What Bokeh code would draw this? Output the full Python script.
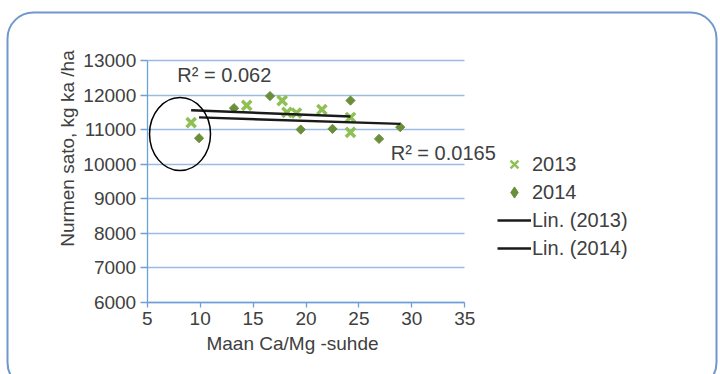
import numpy as np
from bokeh.plotting import figure
from bokeh.models import (Range1d, FixedTicker, Label, Legend, LegendItem,
                          BoxAnnotation, ColumnDataSource)
from bokeh.embed import file_html
from bokeh.resources import INLINE

# Soil Ca/Mg ratio vs. grass yield (kg DM/ha), two growing seasons
ratio_2013 = [9.15, 14.4, 17.75, 18.2, 19.1, 21.5, 24.2, 24.2]
yield_2013 = [11200, 11700, 11840, 11500, 11480, 11580, 11350, 10920]
ratio_2014 = [9.9, 13.2, 16.6, 19.5, 22.5, 24.2, 26.9, 28.9]
yield_2014 = [10750, 11620, 11970, 11000, 11020, 11840, 10730, 11070]

x_ticks = [5, 10, 15, 20, 25, 30, 35]
y_ticks = [6000, 7000, 8000, 9000, 10000, 11000, 12000, 13000]

series_labels = ["2013", "2014"]
trend_labels = ["Lin. (2013)", "Lin. (2014)"]
r2_labels = ["R\u00b2 = 0.062", "R\u00b2 = 0.0165"]
x_title = "Maan Ca/Mg -suhde"
y_title = "Nurmen sato, kg ka /ha"

FONT = "Liberation Sans"
TEXT = "#404040"
LIGHT_GREEN = "#8fc055"
DARK_GREEN = "#6b8e3a"
AXIS_BLUE = "#6f9fd6"
GRID_BLUE = "#9dbbe0"
TREND = "#1a1a1a"

X0, X1 = x_ticks[0], x_ticks[-1]
Y0, Y1 = y_ticks[0], y_ticks[-1]

# The frame spans the whole canvas; the axes are pinned inside it so that
# titles, legend and the outer border can sit around the plotting area.
p = figure(width=720, height=374,
           x_range=Range1d(-8.857, 59.152), y_range=Range1d(3906, 14738),
           output_backend="svg", toolbar_location=None,
           min_border=0)
p.background_fill_color = "white"
p.border_fill_color = "white"
p.outline_line_color = None

p.xgrid.visible = False
grid = p.ygrid[0]
grid.ticker = FixedTicker(ticks=y_ticks)
if "cross_bounds" in grid.properties():
    grid.bounds = (Y0, Y1)
    grid.cross_bounds = (X0, X1)
    grid.grid_line_color = GRID_BLUE
    grid.grid_line_width = 1.6
else:
    grid.visible = False
    p.segment(x0=X0, x1=X1, y0=y_ticks, y1=y_ticks,
              line_color=GRID_BLUE, line_width=1.6, level="underlay")

p.xaxis.ticker = FixedTicker(ticks=x_ticks)
p.yaxis.ticker = FixedTicker(ticks=y_ticks)
p.xaxis.fixed_location = Y0
p.yaxis.fixed_location = X0
p.xaxis.bounds = (X0, X1)
p.yaxis.bounds = (Y0, Y1)
for ax in (p.xaxis, p.yaxis):
    ax.axis_line_color = AXIS_BLUE
    ax.axis_line_width = 1.3
    ax.major_tick_line_color = AXIS_BLUE
    ax.major_tick_line_width = 1.3
    ax.minor_tick_line_color = None
    ax.major_tick_in = 0
    ax.major_label_text_font = FONT
    ax.major_label_text_font_size = "19px"
    ax.major_label_text_color = TEXT
p.yaxis.major_tick_out = 7
p.yaxis.major_label_standoff = 4
p.xaxis.major_tick_out = 5
p.xaxis.major_label_standoff = 5

# scatter points
r13 = p.scatter(ratio_2013, yield_2013, marker="x", size=13,
                line_color=LIGHT_GREEN, line_width=3.5)
r14 = p.scatter(ratio_2014, yield_2014, marker="square", angle=np.pi / 4,
                size=6.5, fill_color=DARK_GREEN, line_color=DARK_GREEN)

# linear trend lines fitted to each season
trend = []
for xs, ys in ((ratio_2013, yield_2013), (ratio_2014, yield_2014)):
    k, b = np.polyfit(xs, ys, 1)
    x_ends = np.array([min(xs), max(xs)])
    trend.append(p.line(x_ends, k * x_ends + b, line_color=TREND,
                        line_width=2.4))

# circled outlier region
p.ellipse(x=[8.1], y=[10870], width=5.76, height=2114,
          fill_color=None, line_color="black", line_width=1.5)

# R² annotations
p.add_layout(Label(x=7.85, y=12566, text=r2_labels[0], text_font=FONT,
                   text_font_size="20px", text_color=TEXT,
                   text_baseline="middle"))
p.add_layout(Label(x=28.0, y=10307, text=r2_labels[1], text_font=FONT,
                   text_font_size="20px", text_color=TEXT,
                   text_baseline="middle"))

# axis titles
p.add_layout(Label(x=67, y=226, x_units="screen", y_units="screen",
                   text=y_title, angle=np.pi / 2, text_align="center",
                   text_baseline="middle", text_font=FONT,
                   text_font_size="19px", text_color=TEXT))
p.add_layout(Label(x=292, y=31, x_units="screen", y_units="screen",
                   text=x_title, text_align="center", text_baseline="middle",
                   text_font=FONT, text_font_size="19px", text_color=TEXT))

# legend proxies (smaller markers than the plotted points, never visible)
proxy = dict(x=[np.nan], y=[np.nan])
lg13 = p.scatter("x", "y", source=ColumnDataSource(proxy), marker="x",
                 size=8, line_color=LIGHT_GREEN, line_width=2.5)
lg14 = p.scatter("x", "y", source=ColumnDataSource(proxy), marker="diamond",
                 size=7, fill_color=DARK_GREEN, line_color=DARK_GREEN)

legend = Legend(items=[LegendItem(label=series_labels[0], renderers=[lg13]),
                       LegendItem(label=series_labels[1], renderers=[lg14]),
                       LegendItem(label=trend_labels[0], renderers=[trend[0]]),
                       LegendItem(label=trend_labels[1], renderers=[trend[1]])],
                location=(497, 112), orientation="vertical",
                glyph_width=34, glyph_height=28, label_height=28,
                label_standoff=1, spacing=0, padding=0, margin=0,
                label_text_font=FONT, label_text_font_size="20px",
                label_text_color=TEXT, border_line_color=None,
                background_fill_color=None)
p.add_layout(legend)

# rounded chart border
p.add_layout(BoxAnnotation(left=7, right=716, top=362, bottom=-14,
                           left_units="screen", right_units="screen",
                           top_units="screen", bottom_units="screen",
                           fill_color=None, fill_alpha=0,
                           line_color="#7098cc", line_alpha=1.0,
                           line_width=2, border_radius=26))

open("out.html", "w").write(file_html(p, INLINE))
